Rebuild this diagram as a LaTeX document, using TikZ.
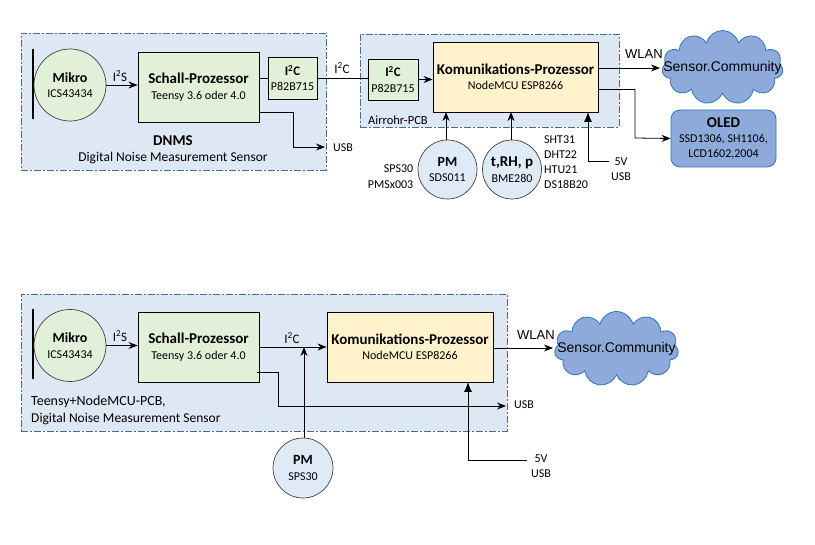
\documentclass[tikz,border=0pt]{standalone}
\usepackage{fontspec}
\setmainfont{Carlito}
\newfontfamily\cloudfont{Liberation Sans}
\usetikzlibrary{positioning,shapes.symbols,arrows.meta}
\definecolor{panelfill}{HTML}{DEE8F5}
\definecolor{panelline}{HTML}{44708F}
\definecolor{greenfill}{HTML}{E2EFD9}
\definecolor{yellowfill}{HTML}{FFF2CC}
\definecolor{circlefill}{HTML}{DEEAF6}
\definecolor{cloudfill}{HTML}{8EAADB}
\definecolor{cloudline}{HTML}{2E75B6}
\newcommand{\Isq}{I\textsuperscript{2}}
\tikzset{
	panel/.style={draw=panelline,fill=panelfill,dash pattern=on 7pt off 2pt on 2pt off 2pt,line width=.7pt,inner sep=0},
	block/.style={draw=black,line width=.9pt,align=center,inner sep=0,font=\fontsize{12}{15.5}\selectfont},
	greenblock/.style={block,fill=greenfill},
	yellowblock/.style={block,fill=yellowfill},
	roundcirc/.style={circle,draw=black!75,line width=.7pt,align=center,inner sep=0,font=\fontsize{12}{15.5}\selectfont},
	mikrocirc/.style={roundcirc,fill=greenfill,minimum size=72pt},
	bluecirc/.style={roundcirc,fill=circlefill,minimum size=59pt},
	web/.style={cloud,cloud puffs=11,cloud ignores aspect,draw=cloudline,fill=cloudfill,line width=.8pt,inner sep=0,font=\cloudfont\fontsize{14}{15}\selectfont},
	lab/.style={inner sep=0,font=\fontsize{12}{14}\selectfont},
	arial/.style={inner sep=0,font=\cloudfont\fontsize{13}{15}\selectfont},
	wire/.style={-{Stealth[length=9pt,width=7pt]},line width=.8pt},
	plain/.style={line width=.8pt},
	bigtip/.style={-{Latex[length=10pt,width=8pt]},line width=.8pt}
}
\newcommand{\titled}[2]{{\fontsize{15}{15.5}\selectfont\bfseries #1}\\#2}
\newcommand{\short}[2]{{\fontsize{14}{15.5}\selectfont\bfseries #1}\\#2}
\begin{document}
\begin{tikzpicture}[x=1pt,y=-1pt]
	\useasboundingbox (0,0) rectangle (815,545);
	% upper picture
	\node[panel,minimum width=305pt,minimum height=137pt] (dnms) at (173.5,101.5) {};
	\node[panel,minimum width=259pt,minimum height=93pt] (airrohr) at (489.5,80.5) {};
	\draw[line width=1.6pt] (33,49) coordinate (bartop) -- (33,119) coordinate (barend);
	\node[mikrocirc] (mikro) at (70,85) {\short{Mikro}{ICS43434}};
	\node[greenblock,minimum width=121pt,minimum height=70pt] (schall) at (198.5,87) {\titled{Schall-Prozessor}{Teensy 3.6 oder 4.0}};
	\node[greenblock,minimum width=49pt,minimum height=42pt] (bridge) at (292.5,78) {{\bfseries\fontsize{13}{14}\selectfont\Isq C}\\P82B715};
	\node[greenblock,minimum width=50pt,minimum height=41pt] (bridgeb) at (393,79.5) {{\bfseries\fontsize{13}{14}\selectfont\Isq C}\\P82B715};
	\node[yellowblock,minimum width=165pt,minimum height=70pt] (komm) at (515.5,77) {\titled{Komunikations-Prozessor}{NodeMCU ESP8266}};
	\node[web,minimum width=121pt,minimum height=74pt] (community) at (722.5,67.5) {\makebox[0pt]{Sensor.Community}};
	\node[rounded corners=9pt,draw=cloudline,fill=cloudfill,line width=.8pt,align=center,inner sep=0,minimum width=105pt,minimum height=57pt,font=\fontsize{12}{15}\selectfont] (oled) at (723.5,138.5) {\titled{OLED}{SSD1306, SH1106,\\LCD1602,2004}};
	\node[bluecirc] (pm) at (447.5,169.5) {\short{PM}{SDS011}};
	\node[bluecirc] (trh) at (512,169.5) {\titled{t,RH, p}{BME280}};
	\node[lab,font=\fontsize{13}{15}\selectfont] (i2s) at (120,76) {\Isq S};
	\node[lab,font=\fontsize{13}{15}\selectfont] (i2c) at (342,68) {\Isq C};
	\node[arial] (wlan) at (644,54) {WLAN};
	\node[lab,anchor=west] (usb) at (333,148) {USB};
	\node[lab,font=\fontsize{15}{15}\selectfont\bfseries] (dnmstitle) at (173,141) {DNMS};
	\node[lab,font=\fontsize{13.5}{15}\selectfont] (dnmstext) at (173,158) {Digital Noise Measurement Sensor};
	\node[lab,anchor=west,font=\fontsize{12.5}{15}\selectfont] (airlab) at (368,120) {Airrohr-PCB};
	\node[lab,anchor=east,align=right,font=\fontsize{12}{15.5}\selectfont] (pmlist) at (413.5,176.5) {SPS30\\PMSx003};
	\node[lab,anchor=north west,align=left,font=\fontsize{12}{15}\selectfont] (trhlist) at (544,136) {SHT31\\DHT22\\HTU21\\DS18B20};
	\node[lab,align=center,font=\fontsize{12}{15.5}\selectfont] (power) at (621,169) {5V\\USB};
	\draw[wire] (mikro.east) -- (mikro.east -| schall.west);
	\draw[plain] (schall.east |- bridge) -- (bridge.west);
	\draw[plain] (bridge.east) -- (bridge.east -| bridgeb.west);
	\draw[wire] (bridgeb.east) -- (bridgeb.east -| komm.west);
	\coordinate (usbout) at (259,112);
	\draw[wire] (usbout) -- (293,112) -- (293,147) -- (325,147);
	\draw[wire] (komm.east |- 0,68) -- (660,68);
	\coordinate (oledout) at (598,89.5);
	\draw[wire] (oledout) -| (635,138) -- (oled.west);
	\draw[wire] (pm.north -| 446,0) -- (446,112);
	\draw[wire] (trh.north -| 511,0) -- (511,112);
	\coordinate (powerin) at (609,161);
	\draw[bigtip] (powerin) -- (588,161) -- (588,112);
	% lower picture
	\node[panel,minimum width=486pt,minimum height=137pt] (teensy) at (264,362.5) {};
	\draw[line width=1.6pt] (33,309) coordinate (barlow) -- (33,379) coordinate (barlowend);
	\node[mikrocirc] (mikrob) at (70,345.5) {\short{Mikro}{ICS43434}};
	\node[greenblock,minimum width=121pt,minimum height=70pt] (schallb) at (198.5,347) {\titled{Schall-Prozessor}{Teensy 3.6 oder 4.0}};
	\node[yellowblock,minimum width=166pt,minimum height=70pt] (kommb) at (410,347) {\titled{Komunikations-Prozessor}{NodeMCU ESP8266}};
	\node[web,minimum width=124pt,minimum height=75pt] (communityb) at (616.5,349) {\makebox[0pt]{Sensor.Community}};
	\node[bluecirc,minimum size=60pt] (pmb) at (303,468) {\short{PM}{SPS30}};
	\node[lab,font=\fontsize{13}{15}\selectfont] (i2sb) at (120,336) {\Isq S};
	\node[lab,font=\fontsize{13}{15}\selectfont] (i2cb) at (292,338) {\Isq C};
	\node[arial] (wlanb) at (536,335) {WLAN};
	\node[lab,anchor=west] (usbb) at (514,405) {USB};
	\node[lab,anchor=west,font=\fontsize{14}{15}\selectfont] (teensytext) at (31,402) {Teensy+NodeMCU-PCB,};
	\node[lab,anchor=west,font=\fontsize{13.5}{15}\selectfont] (teensysub) at (31,419) {Digital Noise Measurement Sensor};
	\node[lab,align=center,font=\fontsize{12}{15.5}\selectfont] (powerb) at (541,466) {5V\\USB};
	\draw[wire] (mikrob.east) -- (mikrob.east -| schallb.west);
	\draw[wire] (schallb.east) -- (kommb.west);
	\draw[wire] (pmb.north -| 304,0) -- (304,347);
	\coordinate (usboutb) at (257,372);
	\draw[wire] (usboutb) -- (278,372) -- (278,406) -- (506,406);
	\draw[wire] (kommb.east |- 0,348) -- (553,348);
	\coordinate (powerinb) at (527,460);
	\draw[bigtip] (powerinb) -- (468,460) -- (468,382);
\end{tikzpicture}
\end{document}
